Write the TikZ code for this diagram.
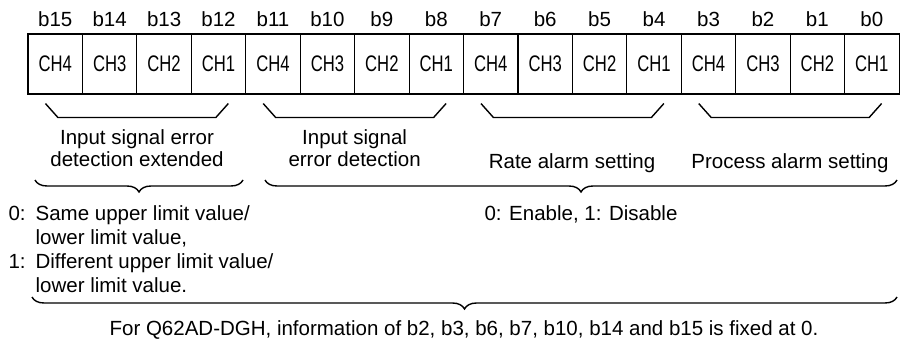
\documentclass[tikz,border=0pt]{standalone}
\usepackage{fontspec}
\setmainfont{Liberation Sans}
\usepackage{graphicx}
\usetikzlibrary{decorations.pathreplacing,calc}

\begin{document}
\begin{tikzpicture}[x=1pt,y=-1pt,line width=1.1pt,
    font=\fontsize{20.5}{24}\selectfont,
    cell/.style={draw,minimum width=54.44pt,minimum height=60pt,inner sep=0pt,
      font=\fontsize{22.5}{24}\selectfont},
    lbl/.style={inner sep=0pt,anchor=base},
    grp/.style={line width=1.4pt,line join=round},
    curly/.style={line width=1.4pt,decorate,decoration={brace,mirror,amplitude=12pt}}]
  \useasboundingbox (0,0) rectangle (901,339);
  % bit cells, b15 on the left
  \foreach \i in {0,...,15}{
    \pgfmathtruncatemacro{\bit}{15-\i}
    \pgfmathtruncatemacro{\ch}{4-mod(\i,4)}
    \node[cell] (c\i) at ({28+54.44*(\i+0.5)},64) {\scalebox{0.74}[1]{CH\ch}};
    \node[lbl] (b\i) at ({28+54.44*(\i+0.5)},27) {b\bit};
  }
  % one bracket under each group of four
  \foreach \a/\z in {0/3,4/7,8/11,12/15}{
    \draw[grp] ($(c\a.south west)+(18,9)$) -- ++(12.5,14)
      -- ($(c\z.south east)+(-30.5,23)$) -- ++(12.5,-14);
  }
  \node[lbl,align=center,font=\fontsize{20.5}{22}\selectfont] (ext) at (137,167)
    {Input signal error\\detection extended};
  \node[lbl,align=center,font=\fontsize{20.5}{22}\selectfont] (ise) at (354.6,167)
    {Input signal\\error detection};
  \node[lbl] (rate) at (572,168) {Rate alarm setting};
  \node[lbl] (proc) at (790,168) {Process alarm setting};
  % braces
  \draw[curly] (35,180) -- (243,180);
  \draw[curly] (265,180) -- (897,180);
  \draw[curly] (32,297) -- (897,297);
  \node[lbl,anchor=base west] (ulim) at (8,220)
    {\begin{tabular}[t]{@{}l@{\hspace{10pt}}l@{}}
      0: & Same upper limit value/\\
         & lower limit value,\\
      1: & Different upper limit value/\\
         & lower limit value.
    \end{tabular}};
  \node[lbl] (ena) at (581,220) {0: Enable, 1: Disable};
  \node[lbl] (note) at (464,335)
    {For Q62AD-DGH, information of b2, b3, b6, b7, b10, b14 and b15 is fixed at 0.};
\end{tikzpicture}
\end{document}
